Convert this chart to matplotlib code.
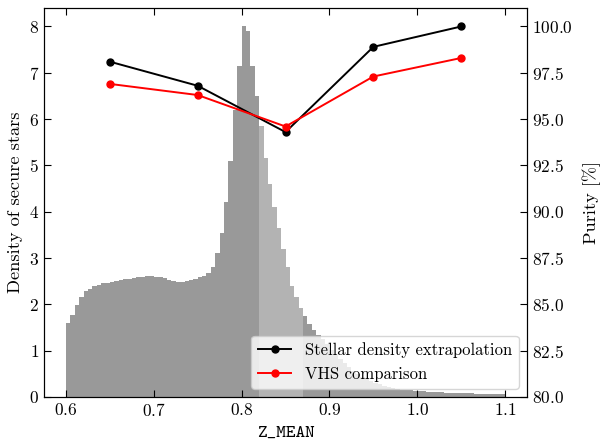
import numpy as np
import matplotlib
matplotlib.use("Agg")
import matplotlib.pyplot as plt

plt.rcParams['font.family'] = ['cmr10', 'DejaVu Serif']
plt.rcParams['mathtext.fontset'] = 'cm'
plt.rcParams['axes.formatter.use_mathtext'] = True
plt.rcParams['axes.unicode_minus'] = False
plt.rcParams['font.size'] = 12.5

# histogram of secure stars, bins of 0.005 from 0.6 to 1.1
bin_edges = np.round(np.arange(0.6, 1.1001, 0.005), 3)
density = [
    1.60, 1.78, 1.98, 2.15, 2.28, 2.34, 2.39, 2.42, 2.45, 2.47,
    2.49, 2.50, 2.52, 2.54, 2.55, 2.56, 2.58, 2.60, 2.61, 2.61,
    2.60, 2.58, 2.56, 2.53, 2.51, 2.49, 2.49, 2.51, 2.53, 2.55,
    2.58, 2.62, 2.68, 2.80, 3.10, 3.55, 4.20, 5.10, 6.20, 7.15,
    8.00, 7.90, 7.15, 6.50, 5.85, 5.15, 4.60, 4.10, 3.65, 3.20,
    2.80, 2.40, 2.15, 1.92, 1.75, 1.58, 1.45, 1.34, 1.25, 1.15,
    1.02, 0.92, 0.82, 0.73, 0.65, 0.57, 0.50, 0.44, 0.39, 0.34,
    0.30, 0.27, 0.24, 0.21, 0.19, 0.17, 0.16, 0.15, 0.14, 0.13,
    0.12, 0.12, 0.11, 0.11, 0.10, 0.10, 0.09, 0.09, 0.09, 0.08,
    0.08, 0.08, 0.08, 0.07, 0.07, 0.07, 0.07, 0.06, 0.06, 0.06,
]

# purity per redshift bin
z_bins = [0.65, 0.75, 0.85, 0.95, 1.05]
purity_extrap = [98.1, 96.8, 94.3, 98.9, 100.0]
purity_vhs = [96.9, 96.3, 94.6, 97.3, 98.3]

fig = plt.figure(figsize=(6.03, 4.43), dpi=100)
ax = fig.add_axes([0.073, 0.104, 0.801, 0.878])

left = bin_edges[:-1]
colors = ['#b3b3b3' if 0.8199 < x < 0.8699 else '#999999' for x in left]
ax.bar(left, density, width=0.005, align='edge', color=colors, linewidth=0)
ax.set_ylim(0, None)
ax.set_xticks([0.6, 0.7, 0.8, 0.9, 1.0, 1.1])
ax.set_xlabel('Z_MEAN', family=['cmtt10', 'DejaVu Sans Mono'], fontsize=13.2,
              labelpad=5)
ax.set_ylabel('Density of secure stars', fontsize=13.2)
ax.tick_params(direction='in', top=True, length=5)

ax2 = ax.twinx()
ax2.plot(z_bins, purity_extrap, 'o-', color='black', ms=5, lw=1.4,
         label='Stellar density extrapolation')
ax2.plot(z_bins, purity_vhs, 'o-', color='red', ms=5, lw=1.4,
         label='VHS comparison')
ax2.set_ylim(80, 101)
ax2.set_ylabel('Purity [%]', fontsize=13.2, labelpad=7)
ax2.tick_params(direction='in', length=5)
ax2.legend(loc='lower right', fontsize=12)

fig.savefig('out.png', dpi=100)
